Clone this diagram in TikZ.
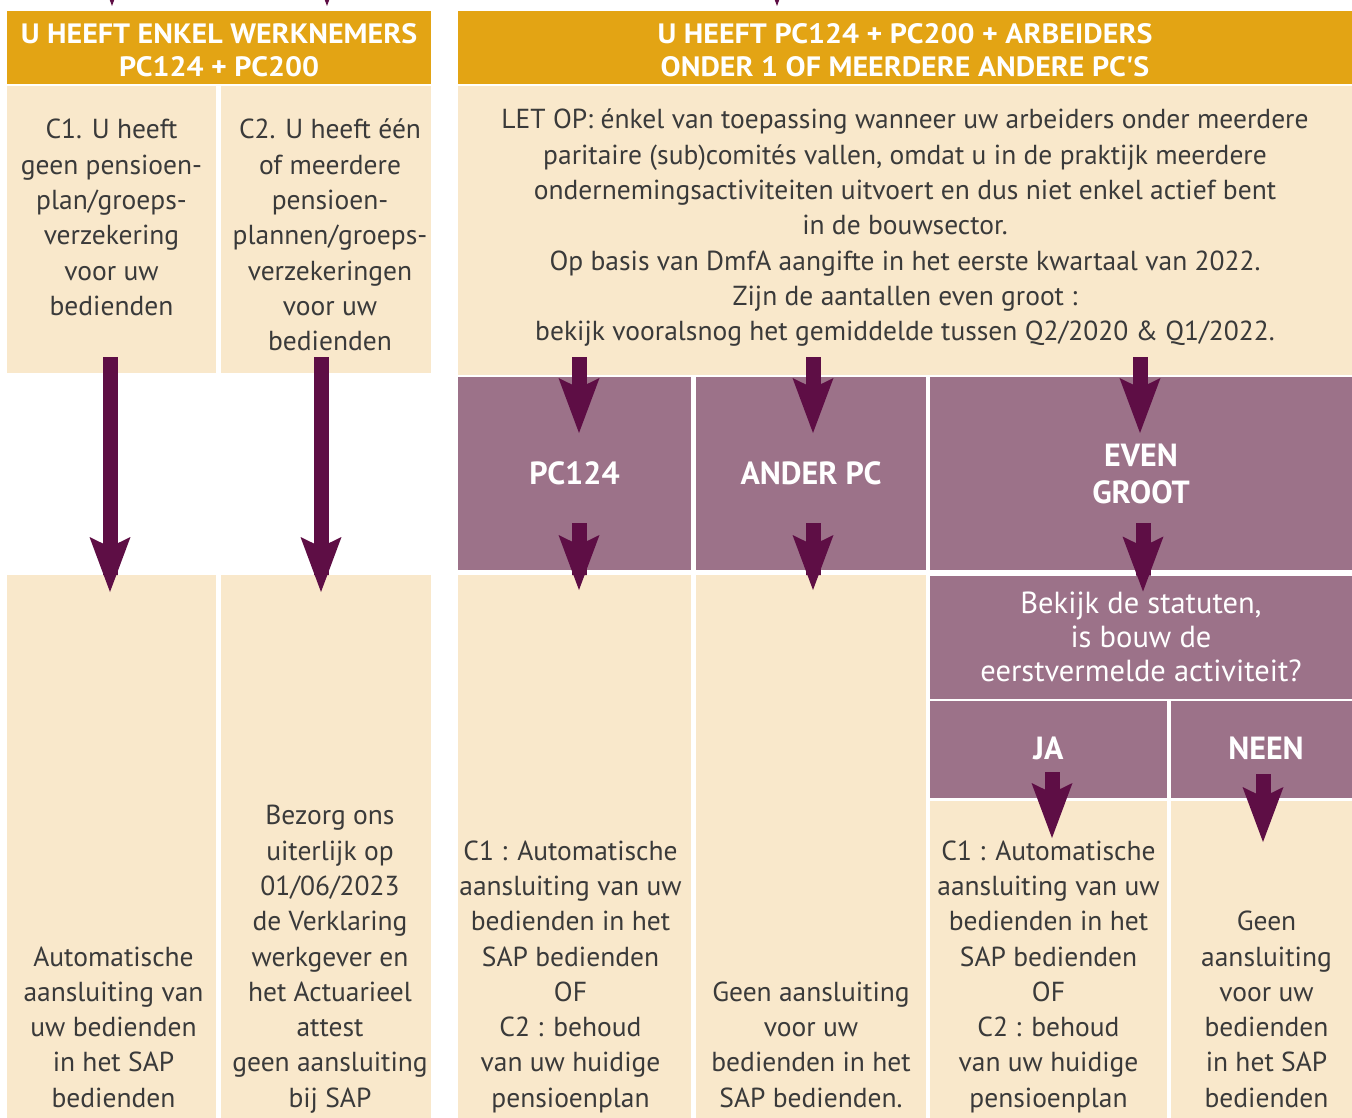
\documentclass[tikz,border=0pt]{standalone}
\usepackage{fontspec}
\setmainfont{PT Sans}
\newfontfamily\condfont[FakeStretch=1.07]{PT Sans}
\usepackage{xcolor}
\usetikzlibrary{arrows.meta,positioning}

\definecolor{gold}{HTML}{E3A414}
\definecolor{cream}{HTML}{F9E8CB}
\definecolor{mauve}{HTML}{9C7289}
\definecolor{plum}{HTML}{5E0E45}
\definecolor{ink}{HTML}{3A3A3A}

\begin{document}
\begin{tikzpicture}[x=1pt,y=-1pt,
  vak/.style 2 args={fill=cream, inner sep=0pt, outer sep=0pt, minimum width=#1pt, minimum height=#2pt},
  kop/.style 2 args={fill=gold, inner sep=0pt, outer sep=0pt, minimum width=#1pt, minimum height=#2pt},
  koptekst/.style={text=white, align=center, inner sep=0pt, font=\condfont\bfseries\fontsize{28}{33}\selectfont},
  paars/.style 2 args={fill=mauve, inner sep=0pt, outer sep=0pt, minimum width=#1pt, minimum height=#2pt,
    text=white, align=center, font=\bfseries\fontsize{32}{37}\selectfont},
  tekst/.style={text=ink, align=center, inner sep=0pt, font=\fontsize{27.5}{35.3}\selectfont},
  pijl/.style={draw=plum, line width=15pt, -{Stealth[length=55pt,width=41pt,inset=10pt,line width=0pt]}},
]
\path[use as bounding box, clip] (0,0) rectangle (1352,1118);
\fill[white] (0,0) rectangle (1352,1118);

% headers
\node[kop={424}{73}] (hL) at (219,47.5) {};
\node[kop={894}{73}] (hR) at (905,47.5) {};
\node[koptekst] (hLt) at ([yshift=-3pt]hL.center) {U HEEFT ENKEL WERKNEMERS\\PC124 + PC200};
\node[koptekst] (hRt) at ([yshift=-3pt]hR.center) {U HEEFT PC124 + PC200 + ARBEIDERS\\ONDER 1 OF MEERDERE ANDERE PC'S};

% first row
\node[vak={209}{287}] (c1) at (111.5,229.5) {};
\node[vak={210}{287}] (c2) at (326,229.5) {};
\node[vak={894}{289}] (note) at (905,230.5) {};

\node[tekst, below=28pt of c1.north] (c1t) {\strut C1. U heeft\\geen pensioen-\\plan/groeps-\\verzekering\\voor uw\\bedienden};
\node[tekst, below=28pt of c2.north, xshift=4pt] (c2t) {\strut C2. U heeft één\\of meerdere\\pensioen-\\plannen/groeps-\\verzekeringen\\voor uw\\bedienden};
\node[tekst, below=18pt of note.north] (notet) {\strut LET OP: énkel van toepassing wanneer uw arbeiders onder meerdere\\
  paritaire (sub)comités vallen, omdat u in de praktijk meerdere\\
  ondernemingsactiviteiten uitvoert en dus niet enkel actief bent\\
  in de bouwsector.\\
  Op basis van DmfA aangifte in het eerste kwartaal van 2022.\\
  Zijn de aantallen even groot :\\
  bekijk vooralsnog het gemiddelde tussen Q2/2020 \& Q1/2022.};

% purple row
\node[paars={233}{193}] (pA) at (574.5,473.5) {\raisebox{-2pt}{PC124}};
\node[paars={230}{193}] (pB) at (811,473.5) {\raisebox{-2pt}{ANDER PC}};
\node[paars={422}{193}] (pC) at (1141,473.5) {EVEN\\GROOT};
\node[paars={422}{123}, font=\fontsize{30.5}{34}\selectfont] (vraag) at (1141,637) {Bekijk de statuten,\\is bouw de\\eerstvermelde activiteit?};
\node[paars={237}{97}] (ja) at (1048.5,749.5) {\raisebox{3pt}{JA}};
\node[paars={181}{97}] (neen) at (1261.5,749.5) {\raisebox{3pt}{\hspace*{9pt}NEEN}};

% bottom row
\node[vak={209}{543}] (r1) at (111.5,846.5) {};
\node[vak={210}{543}] (r2) at (326,846.5) {};
\node[vak={233}{543}] (r3) at (574.5,846.5) {};
\node[vak={230}{543}] (r4) at (811,846.5) {};
\node[vak={237}{317}] (r5) at (1048.5,959.5) {};
\node[vak={181}{317}] (r6) at (1261.5,959.5) {};

\node[tekst, above=0pt of r1.south, xshift=2pt] (r1t) {Automatische\\aansluiting van\\uw bedienden\\in het SAP\\bedienden\strut};
\node[tekst, above=0pt of r2.south, xshift=4pt] (r2t) {Bezorg ons\\uiterlijk op\\01/06/2023\\de Verklaring\\werkgever en\\het Actuarieel\\attest\\geen aansluiting\\bij SAP\strut};
\node[tekst, above=0pt of r3.south, xshift=-4pt] (r3t) {C1 : Automatische\\aansluiting van uw\\bedienden in het\\SAP bedienden\\OF\\C2 : behoud\\van uw huidige\\pensioenplan\strut};
\node[tekst, above=0pt of r4.south] (r4t) {Geen aansluiting\\voor uw\\bedienden in het\\SAP bedienden.\strut};
\node[tekst, above=0pt of r5.south] (r5t) {C1 : Automatische\\aansluiting van uw\\bedienden in het\\SAP bedienden\\OF\\C2 : behoud\\van uw huidige\\pensioenplan\strut};
\node[tekst, above=0pt of r6.south, xshift=5pt] (r6t) {Geen\\aansluiting\\voor uw\\bedienden\\in het SAP\\bedienden\strut};

% arrows
\coordinate (in1) at (110,357);
\coordinate (in2) at (321,357);
\coordinate (inA) at (579,357);
\coordinate (inB) at (813,357);
\coordinate (inC) at (1140,357);
\coordinate (uitA) at (579,523);
\coordinate (uitB) at (813,523);
\coordinate (uitC) at (1143,523);
\coordinate (uitJ) at (1052,772);
\coordinate (uitN) at (1263,774);
\coordinate (top1) at (112,-60);
\coordinate (top2) at (327,-60);
\coordinate (top3) at (777,-60);
\coordinate (tip1) at (112,6);
\coordinate (tip2) at (327,6);
\coordinate (tip3) at (777,6);

\draw[pijl] (in1) -- (in1 |- r1.north) -- ++(0,17);
\draw[pijl] (in2) -- (in2 |- r2.north) -- ++(0,17);
\draw[pijl] (inA) -- (inA |- pA.north) -- ++(0,56);
\draw[pijl] (inB) -- (inB |- pB.north) -- ++(0,56);
\draw[pijl] (inC) -- (inC |- pC.north) -- ++(0,56);
\draw[pijl] (uitA) -- (uitA |- r3.north) -- ++(0,15);
\draw[pijl] (uitB) -- (uitB |- r4.north) -- ++(0,15);
\draw[pijl] (uitC) -- (uitC |- vraag.north) -- ++(0,16);
\draw[pijl] (uitJ) -- (uitJ |- r5.north) -- ++(0,37);
\draw[pijl] (uitN) -- (uitN |- r6.north) -- ++(0,41);
\draw[pijl] (top1) -- (tip1);
\draw[pijl] (top2) -- (tip2);
\draw[pijl] (top3) -- (tip3);
\end{tikzpicture}
\end{document}
